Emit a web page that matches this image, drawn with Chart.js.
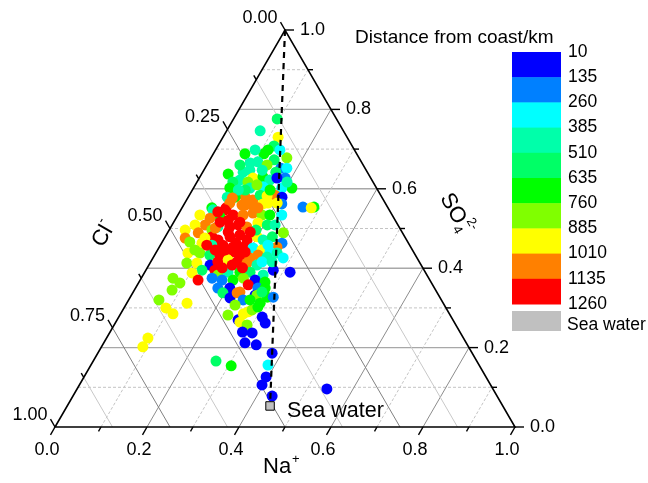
<!DOCTYPE html>
<html lang="en">
<head>
<meta charset="UTF-8">
<title>Ternary Na-Cl-SO4</title>
<script src="https://cdn.jsdelivr.net/npm/chart.js@4.4.0/dist/chart.umd.min.js"></script>
<style>body{margin:0;background:#fff}</style>
</head>
<body>
<canvas id="chart" width="648" height="483"></canvas>
<script>
// molar fractions, Cl- is the remainder (1 - Na - SO4)
const na = [
 .095,.073,.120,.122,.069,.110,.165,.140,.092,.107,
 .131,.165,.178,.159,.088,.100,.058,.117,.137,.156,
 .187,.091,.111,.078,.169,.214,.079,.123,.150,.192,
 .196,.186,.204,.124,.144,.154,.170,.181,.085,.102,
 .065,.096,.262,.286,.281,.212,.201,.171,.151,.127,
 .098,.096,.070,.094,.074,.120,.142,.161,.183,.200,
 .226,.072,.050,.035,.067,.045,.093,.102,.128,.144,
 .165,.184,.207,.252,.102,.119,.141,.160,.182,.200,
 .217,.233,.262,.256,.060,.088,.112,.136,.160,.182,
 .205,.227,.247,.070,.096,.120,.142,.161,.188,.211,
 .225,.247,.264,.283,.080,.102,.133,.146,.166,.188,
 .211,.235,.277,.316,.150,.122,.104,.163,.181,.207,
 .229,.261,.126,.154,.178,.202,.222,.250,.274,.069,
 .082,.090,.179,.205,.232,.241,.266,.282,.269,.066,
 .091,.114,.131,.090,.090,.267,.306,.196,.218,.227,
 .249,.273,.290,.298,.311,.235,.263,.267,.275,.270,
 .289,.281,.290,.312,.326,.288,.310,.307,.334,.379,
 .385,.396,.397,.433,.543,
 .086,.114,.072,.140,.127,.115,.169,.100,.134,.048,
 .088,.081,.264,.238,.280,.242,.264,.234,.224,.189,
 .134,.165,.097,.098,
 .101,.131,.162,.147,.171,.193,.181,.163,.207,.125,
 .101,.144,.179,.116,.083
];
const so4 = [
 .776,.746,.730,.708,.688,.688,.678,.673,.665,.668,
 .660,.652,.652,.642,.642,.647,.637,.627,.630,.622,
 .627,.622,.617,.617,.627,.602,.602,.602,.605,.602,
 .617,.584,.579,.579,.572,.584,.582,.564,.579,.579,
 .552,.552,.554,.554,.552,.562,.564,.562,.559,.559,
 .564,.547,.547,.529,.526,.534,.534,.539,.534,.534,
 .534,.509,.509,.496,.489,.476,.496,.504,.504,.509,
 .504,.514,.509,.489,.479,.471,.479,.484,.471,.479,
 .471,.479,.463,.453,.466,.463,.458,.458,.453,.453,
 .451,.446,.441,.438,.438,.433,.433,.438,.428,.426,
 .433,.428,.438,.426,.413,.413,.408,.416,.421,.416,
 .413,.408,.395,.390,.395,.395,.388,.383,.390,.390,
 .390,.383,.370,.375,.370,.370,.375,.370,.365,.375,
 .345,.363,.350,.350,.340,.358,.350,.350,.332,.320,
 .300,.285,.312,.224,.202,.166,.154,.338,.325,.338,
 .320,.332,.312,.327,.327,.282,.270,.285,.290,.264,
 .257,.295,.302,.277,.262,.239,.237,.212,.207,.186,
 .156,.126,.106,.078,.096,
 .698,.698,.660,.698,.647,.597,.597,.597,.610,.534,
 .476,.446,.320,.307,.340,.416,.416,.458,.509,.496,
 .559,.552,.577,.501,
 .516,.491,.463,.446,.441,.441,.408,.401,.401,.446,
 .458,.516,.491,.521,.542
];
// distance from coast, km
const distKm = [
 570,450,950,570,700,700,820,570,450,450,
 820,200,320,570,450,450,700,950,700,450,
 200,450,820,570,70,700,700,450,320,320,
 450,1070,70,1070,1070,570,950,950,450,700,
 700,1200,200,700,950,200,950,950,1070,1070,
 1070,1200,450,700,1070,1200,1070,1070,820,700,
 320,1070,950,950,1070,1070,820,450,1200,1200,
 1070,950,570,820,1200,1200,1200,1200,1200,950,
 450,570,200,1070,820,950,450,1200,1200,1200,
 320,950,320,950,820,570,1200,1200,1200,1070,
 1070,450,450,320,820,950,70,1200,950,1200,
 1070,450,70,70,1200,570,950,820,450,700,
 570,450,1200,200,200,700,820,70,700,820,
 820,820,200,70,1070,1200,200,700,70,820,
 950,950,950,950,950,570,700,570,70,1070,
 200,820,700,700,200,820,70,950,950,950,
 820,820,700,70,70,70,70,70,70,70,
 320,70,70,70,70,
 450,700,570,320,450,570,700,450,820,950,
 950,820,700,820,570,320,450,320,450,570,
 1070,1070,1070,1070,
 1200,1200,1200,1200,1200,1200,1200,1200,1200,1200,
 1200,1200,1200,1200,1200
];
const seaWater = { na: 0.441, so4: 0.053 };

const naTicks = [0, 0.2, 0.4, 0.6, 0.8, 1.0];
const clTicks = [0, 0.25, 0.5, 0.75, 1.0];
const so4Ticks = [0, 0.2, 0.4, 0.6, 0.8, 1.0];

const distLevels = [10, 135, 260, 385, 510, 635, 760, 885, 1010, 1135, 1260];
const distColors = ['#0000ff','#0080ff','#00ffff','#00ffaa','#00ff66','#00ff00','#80ff00','#ffff00','#ff8000','#ff0000'];

function colorFor(d) {
  let i = 0;
  while (i < distColors.length - 1 && d >= distLevels[i + 1]) i++;
  return distColors[i];
}
// ternary -> cartesian (equilateral)
const tx = (n, s) => n + s / 2;

const pts = na.map((n, i) => ({ x: tx(n, so4[i]), y: so4[i] }));

const FONT = '"Liberation Sans", Arial, sans-serif';

const ternaryFrame = {
  id: 'ternaryFrame',
  beforeDatasetsDraw(chart) {
    const ctx = chart.ctx;
    const xs = chart.scales.x, ys = chart.scales.y;
    const P = (n, s) => [xs.getPixelForValue(tx(n, s)), ys.getPixelForValue(s)];
    const seg = (a, b, color, w, dash) => {
      ctx.beginPath();
      ctx.strokeStyle = color; ctx.lineWidth = w; ctx.setLineDash(dash || []);
      ctx.moveTo(a[0], a[1]); ctx.lineTo(b[0], b[1]); ctx.stroke();
    };
    ctx.save();
    // SO4 grid (horizontal)
    for (let k = 1; k < 10; k++) {
      const s = k / 10, major = k % 2 === 0;
      seg(P(0, s), P(1 - s, s), major ? '#a8a8a8' : '#c4c4c4', major ? 1.4 : 1, major ? [] : [3, 2]);
    }
    // Na grid (parallel to left edge)
    for (let k = 1; k < 10; k++) {
      const n = k / 10, major = k % 2 === 0;
      seg(P(n, 0), P(n, 1 - n), major ? '#8c8c8c' : '#c4c4c4', 1, major ? [] : [3, 2]);
    }
    // Cl grid (parallel to right edge)
    for (let k = 1; k < 8; k++) {
      const c = k / 8, major = k % 2 === 0;
      seg(P(1 - c, 0), P(0, 1 - c), major ? '#808080' : '#c8c8c8', 1, []);
    }
    // frame
    ctx.beginPath(); ctx.setLineDash([]);
    const A = P(0, 0), B = P(1, 0), C = P(0, 1);
    ctx.moveTo(A[0], A[1]); ctx.lineTo(B[0], B[1]); ctx.lineTo(C[0], C[1]); ctx.closePath();
    ctx.strokeStyle = '#000'; ctx.lineWidth = 1.6; ctx.stroke();

    // ticks and labels
    ctx.fillStyle = '#000';
    ctx.font = '18px ' + FONT;
    // bottom: Na+
    for (let k = 0; k <= 10; k++) {
      const b = P(k / 10, 0), L = k % 2 === 0 ? 9 : 5;
      const e = [b[0] - 0.5 * L, b[1] + 0.866 * L];
      seg(b, e, '#000', 1.4);
    }
    ctx.textAlign = 'center'; ctx.textBaseline = 'middle';
    naTicks.forEach(n => {
      const b = P(n, 0);
      ctx.fillText(n.toFixed(1), b[0] - 8, b[1] + 23);
    });
    // right: SO4
    for (let k = 0; k <= 10; k++) {
      const s = k / 10, b = P(1 - s, s), L = k % 2 === 0 ? 9 : 5;
      seg(b, [b[0] + L, b[1]], '#000', 1.4);
    }
    ctx.textAlign = 'left';
    so4Ticks.forEach(s => {
      const b = P(1 - s, s);
      ctx.fillText(s.toFixed(1), b[0] + 15, b[1]);
    });
    // left: Cl
    for (let k = 0; k <= 8; k++) {
      const c = k / 8, b = P(0, 1 - c), L = k % 2 === 0 ? 9 : 5;
      seg(b, [b[0] - 0.5 * L, b[1] - 0.866 * L], '#000', 1.4);
    }
    ctx.textAlign = 'right';
    clTicks.forEach(c => {
      const b = P(0, 1 - c);
      ctx.fillText(c.toFixed(2), b[0] - 7.5, b[1] - 12);
    });
    ctx.restore();
  },
  afterDraw(chart) {
    const ctx = chart.ctx;
    ctx.save();
    ctx.fillStyle = '#000';
    ctx.textBaseline = 'middle';
    // axis titles
    ctx.font = '22px ' + FONT;
    ctx.textAlign = 'left';
    ctx.fillText('Na', 263, 467);
    ctx.font = '13px ' + FONT;
    ctx.fillText('+', 292, 459);

    ctx.save();
    ctx.translate(104, 234);
    ctx.rotate(-Math.PI / 3);
    ctx.font = '22px ' + FONT;
    ctx.fillText('Cl', -13, 0);
    ctx.font = '14px ' + FONT;
    ctx.fillText('-', 8, -9);
    ctx.restore();

    ctx.save();
    ctx.translate(456, 214);
    ctx.rotate(Math.PI / 3);
    ctx.font = '22px ' + FONT;
    ctx.fillText('SO', -22, 0);
    ctx.font = '13px ' + FONT;
    ctx.fillText('4', 11, 7);
    ctx.fillText('2-', 11, -9);
    ctx.restore();

    // sea water annotation
    ctx.font = '21.5px ' + FONT;
    ctx.fillText('Sea water', 287, 411);

    // colour scale
    ctx.font = '19px ' + FONT;
    ctx.fillText('Distance from coast/km', 355, 38);
    const x0 = 512, w = 49, y0 = 52, h = 25.2;
    distColors.forEach((c, i) => {
      ctx.fillStyle = c;
      ctx.fillRect(x0, y0 + i * h, w, h + 0.5);
    });
    ctx.fillStyle = '#c0c0c0';
    ctx.fillRect(x0, 311, w, 20);
    ctx.fillStyle = '#000';
    ctx.font = '17.5px ' + FONT;
    distLevels.forEach((d, i) => ctx.fillText(String(d), 568, y0 + i * h));
    ctx.fillText('Sea water', 567, 325);
    ctx.restore();
  }
};

new Chart(document.getElementById('chart'), {
  type: 'scatter',
  data: {
    datasets: [
      {
        label: 'Sea water',
        data: [{ x: tx(seaWater.na, seaWater.so4), y: seaWater.so4 }],
        pointStyle: 'rect', pointRadius: 6, pointBackgroundColor: '#c0c0c0',
        pointBorderColor: '#000', pointBorderWidth: 1, clip: false
      },
      {
        label: 'mixing line',
        data: [{ x: tx(0, 1), y: 1 }, { x: tx(seaWater.na, seaWater.so4), y: seaWater.so4 }],
        showLine: true, borderColor: '#000', borderWidth: 2.2, borderDash: [6, 5],
        pointRadius: 0, clip: false
      },
      {
        label: 'samples',
        data: pts,
        pointRadius: 5.5,
        pointBorderWidth: 0,
        pointBackgroundColor: distKm.map(colorFor),
        clip: false
      }
    ]
  },
  options: {
    responsive: false,
    devicePixelRatio: 1,
    animation: false,
    events: [],
    layout: { padding: { left: 55, right: 133, top: 30, bottom: 56 } },
    plugins: { legend: { display: false }, tooltip: { enabled: false } },
    scales: {
      x: { type: 'linear', min: 0, max: 1, display: false },
      y: { type: 'linear', min: 0, max: 1, display: false }
    }
  },
  plugins: [ternaryFrame]
});
</script>
</body>
</html>
